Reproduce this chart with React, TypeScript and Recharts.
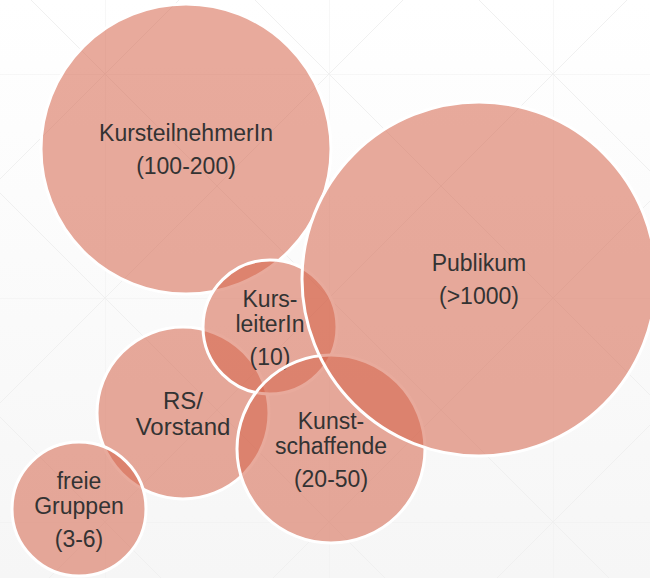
import { ScatterChart, Scatter, XAxis, YAxis, ZAxis } from "recharts";

// drawing order matters: later circles sit on top of earlier ones
const groupNames = [
  ["KursteilnehmerIn"],
  ["RS/", "Vorstand"],
  ["freie", "Gruppen"],
  ["Kurs-", "leiterIn"],
  ["Kunst-", "schaffende"],
  ["Publikum"],
];
const groupCounts = ["(100-200)", "", "(3-6)", "(10)", "(20-50)", "(>1000)"];
const centerX = [186, 183, 79, 270, 331, 479];
const centerY = [149, 413, 509, 327, 449, 279];
const radius = [145, 86, 67, 67, 94, 177];

const MAX_R = 200;
// the RS/Vorstand label is set a touch larger in the original
const bigLabel = new Set(["RS/"]);

const data = groupNames.map((lines, i) => ({
  x: centerX[i],
  y: centerY[i],
  z: radius[i] * radius[i],
  lines,
  count: groupCounts[i],
}));

const BubbleShape = (props: any) => {
  const { cx, cy, width, payload } = props;
  const r = width / 2;
  const lines: string[] = payload.lines;
  const hasCount = payload.count !== "";
  const big = bigLabel.has(lines[0]);
  const step = big ? 26 : 25;
  const lastOffset = (lines.length - 1) * step + (hasCount ? 33 : 0);
  const base = cy - (lastOffset - 17) / 2;
  return (
    <g>
      <circle
        cx={cx}
        cy={cy}
        r={r}
        fill="#d5644b"
        fillOpacity={0.55}
        stroke="#ffffff"
        strokeWidth={3}
      />
      <text
        textAnchor="middle"
        fontFamily="'Liberation Sans', Arial, sans-serif"
        fontSize={big ? 24 : 23}
        fill="#333333"
      >
        {lines.map((l, i) => (
          <tspan key={l} x={cx} y={base + i * step}>
            {l}
          </tspan>
        ))}
        {hasCount && (
          <tspan x={cx} y={base + (lines.length - 1) * step + 33}>
            {payload.count}
          </tspan>
        )}
      </text>
    </g>
  );
};

export default function App() {
  return (
    <div
      style={{
        position: "absolute",
        left: 0,
        top: 0,
        width: 650,
        height: 578,
        background: "linear-gradient(#ffffff, #f6f6f6)",
        overflow: "hidden",
      }}
    >
      <svg
        width={650}
        height={578}
        style={{ position: "absolute", left: 0, top: 0 }}
      >
        <defs>
          <pattern
            id="grid"
            x={105}
            y={74}
            width={224}
            height={224}
            patternUnits="userSpaceOnUse"
          >
            <g stroke="#f0f0f0" strokeWidth={1} fill="none">
              <line x1={0} y1={0} x2={224} y2={0} />
              <line x1={0} y1={0} x2={0} y2={224} />
              <line x1={0} y1={0} x2={224} y2={224} />
              <line x1={224} y1={0} x2={0} y2={224} />
            </g>
          </pattern>
        </defs>
        <rect width={650} height={578} fill="url(#grid)" />
      </svg>
      <div style={{ position: "absolute", left: 0, top: 0 }}>
        <ScatterChart
          width={650}
          height={578}
          margin={{ top: 0, right: 0, bottom: 0, left: 0 }}
        >
          <XAxis type="number" dataKey="x" domain={[0, 650]} hide />
          <YAxis type="number" dataKey="y" domain={[0, 578]} reversed hide />
          <ZAxis
            type="number"
            dataKey="z"
            domain={[0, MAX_R * MAX_R]}
            range={[0, Math.PI * MAX_R * MAX_R]}
          />
          <Scatter data={data} shape={BubbleShape} isAnimationActive={false} />
        </ScatterChart>
      </div>
    </div>
  );
}
